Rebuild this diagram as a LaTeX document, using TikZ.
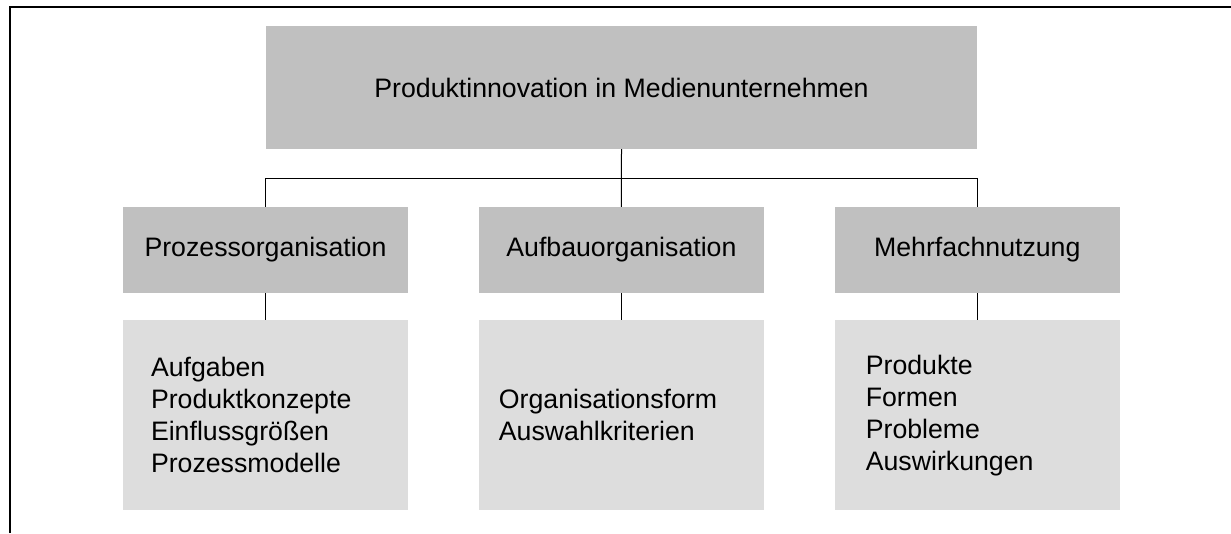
\documentclass[tikz,border=0pt]{standalone}
\usepackage{fontspec}
\setmainfont{Liberation Sans}
\usepackage{xcolor}
\usetikzlibrary{positioning, calc}
\definecolor{boxdark}{RGB}{192,192,192}
\definecolor{boxlight}{RGB}{221,221,221}
\newcommand{\boxfont}{\fontsize{26.7pt}{32pt}\selectfont}

\begin{document}
\begin{tikzpicture}[x=1pt, y=-1pt, node distance=27pt and 70.5pt,
    topbox/.style={fill=boxdark, minimum width=711pt, minimum height=123pt, font=\boxfont},
    headbox/.style={fill=boxdark, minimum width=285pt, minimum height=86pt, font=\boxfont},
    listbox/.style={fill=boxlight, minimum height=190pt, inner xsep=#1,
        text width=285pt-2*#1, align=left, font=\boxfont},
    listbox/.default=28pt]
     \useasboundingbox (0,0) rectangle (1231,533);
     \draw[line width=2pt] (9.5,533) -- (9.5,6.5) -- (1231,6.5); %frame
     \node[topbox] (root) at (621.5,87.5) {Produktinnovation in Medienunternehmen};
     \node[headbox] (proz) at (265.5,250) {Prozessorganisation};
     \node[headbox, right=of proz] (aufbau) {Aufbauorganisation};
     \node[headbox, right=of aufbau] (mehr) {Mehrfachnutzung};
     \node[listbox=28pt, below=of proz] (proz-list)
     {Aufgaben\\Produktkonzepte\\Einflussgrößen\\Prozessmodelle};
     \node[listbox=20pt, below=of aufbau] (aufbau-list)
     {Organisationsform\\Auswahlkriterien};
     \node[listbox=31pt, below=of mehr] (mehr-list)
     {Produkte\\Formen\\Probleme\\Auswirkungen};
     \coordinate (bus) at ($(root.south)!0.5!(aufbau.north)$);
     \draw[line width=1pt] (root.south) -- (aufbau.north);
     \draw[line width=1pt] (proz.north) -- (proz.north |- bus) -| (mehr.north);
     \foreach \n in {proz,aufbau,mehr}
       \draw[line width=1pt] (\n.south) -- (\n-list.north);
   \end{tikzpicture}
\end{document}
